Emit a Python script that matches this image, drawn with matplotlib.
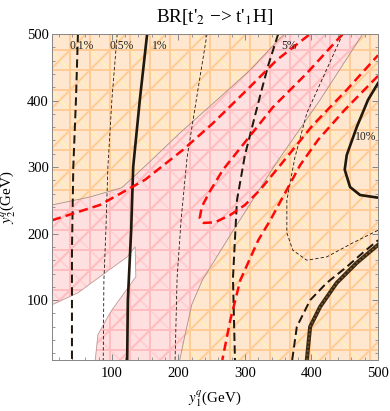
import matplotlib
matplotlib.use("Agg")
import matplotlib.pyplot as plt
from matplotlib.ticker import MultipleLocator

plt.rcParams['font.family'] = ['Liberation Serif', 'DejaVu Serif']
plt.rcParams['mathtext.fontset'] = 'stix'
plt.rcParams['lines.scale_dashes'] = False
plt.rcParams['hatch.linewidth'] = 1.2

x_lim = [10, 500]
y_lim = [10, 500]

# region boundaries (GeV)
upper_x = [10, 67, 115, 157, 202, 258, 308, 353, 360]
upper_y = [243, 255, 269, 308, 351, 401, 446, 494, 500]
lower_x = [202, 210, 220, 236, 275, 345, 413, 477]
lower_y = [10, 48, 93, 130, 193, 303, 401, 500]
white_x = [10, 49, 90, 123, 135, 136, 100, 94, 79, 75]
white_y = [93, 111, 141, 165, 180, 135, 85, 75, 48, 10]

# BR contours
c01_x = [49, 46, 42, 40, 40]
c01_y = [500, 401, 300, 175, 10]
c05_x = [108, 100, 94, 91, 88, 87]
c05_y = [500, 401, 300, 205, 130, 10]
c1_x = [153, 142, 132, 129, 124, 123]
c1_y = [500, 401, 300, 205, 100, 10]
c2_x = [243, 228, 213, 204, 198, 195]
c2_y = [500, 408, 314, 220, 133, 10]
c5_x = [350, 335, 323, 300, 288, 282, 285]
c5_y = [500, 453, 408, 318, 250, 133, 10]
c7_x = [447, 393, 375, 363, 363, 372, 393, 423, 462, 500]
c7_y = [500, 381, 314, 250, 201, 175, 160, 165, 186, 205]
c10_x = [500, 485, 468, 453, 450, 458, 473, 500]
c10_y = [426, 401, 360, 318, 296, 270, 258, 254]
cbd_x = [371, 378, 398, 423, 453, 477, 500]
cbd_y = [10, 60, 100, 126, 150, 171, 190]
cbs_x = [393, 398, 413, 438, 468, 500]
cbs_y = [10, 60, 90, 126, 156, 183]

# red dashed contours
r1_x = [10, 82, 150, 207, 252, 303, 348, 398]
r1_y = [220, 243, 281, 326, 366, 416, 461, 500]
loop_x = [447, 393, 342, 303, 267, 247, 235, 232, 238, 255, 278, 300, 323, 350, 402, 453, 500]
loop_y = [500, 441, 390, 341, 296, 263, 240, 223, 216, 217, 228, 243, 266, 299, 363, 416, 468]
r4_x = [500, 450, 410, 383, 363, 338, 320, 293, 278, 266]
r4_y = [437, 386, 341, 303, 266, 220, 190, 130, 70, 10]

labels = ['0.1%', '0.5%', '1%', '5%', '10%']
label_x = [55, 115, 172, 366, 482]
label_y = [482, 482, 482, 482, 345]

fig = plt.figure(figsize=(390 / 120, 411 / 120), dpi=120)
ax = fig.add_axes([52 / 390, 51 / 411, 326 / 390, 326 / 411])

orange = '#FFE7CF'
orange_h = '#FFCB96'
pink = '#FFE0E1'
pink_h = '#FFBDC0'

orange_polys = [
    (upper_x + [x_lim[0]], upper_y + [y_lim[1]]),
    (lower_x + [x_lim[1], x_lim[1]], lower_y + [y_lim[1], y_lim[0]]),
]
for px, py in orange_polys:
    ax.fill(px, py, facecolor=orange, edgecolor='#FFF0B8', hatch='x', linewidth=0)
    ax.fill(px, py, facecolor='none', edgecolor=orange_h, hatch='+/', linewidth=0)

pink_x = upper_x + lower_x[::-1] + white_x[::-1]
pink_y = upper_y + lower_y[::-1] + white_y[::-1]
ax.fill(pink_x, pink_y, facecolor=pink, edgecolor='#FFD0D2', hatch='x', linewidth=0)
ax.fill(pink_x, pink_y, facecolor='none', edgecolor=pink_h, hatch='+/', linewidth=0)

edge = '#A89080'
ax.plot(upper_x, upper_y, color=edge, lw=0.5)
ax.plot(lower_x, lower_y, color=edge, lw=0.5)
ax.plot(white_x, white_y, color='#C09898', lw=0.5)

dark = '#22180c'
thick_dash = (0, (5, 2.6))
thin_dash = (0, (2, 1.3))
ax.plot(c01_x, c01_y, color=dark, lw=1.2, linestyle=thick_dash)
ax.plot(c05_x, c05_y, color=dark, lw=0.5, linestyle=thin_dash)
ax.plot(c1_x, c1_y, color=dark, lw=1.6)
ax.plot(c2_x, c2_y, color=dark, lw=0.5, linestyle=thin_dash)
ax.plot(c5_x, c5_y, color=dark, lw=1.2, linestyle=thick_dash)
ax.plot(c7_x, c7_y, color=dark, lw=0.5, linestyle=thin_dash)
ax.plot(c10_x, c10_y, color=dark, lw=1.6)
ax.plot(cbd_x, cbd_y, color=dark, lw=1.2, linestyle=thick_dash)
ax.plot(cbs_x, cbs_y, color='#3a2812', lw=2.4)
ax.plot(cbs_x, cbs_y, color='#7a5a30', lw=1.0, linestyle=(0, (1, 1.5)))

red_dash = (0, (5.5, 3))
for xs, ys in [(r1_x, r1_y), (loop_x, loop_y), (r4_x, r4_y)]:
    ax.plot(xs, ys, color='#FF0808', lw=1.5, linestyle=red_dash)

for t, lx, ly in zip(labels, label_x, label_y):
    ax.text(lx, ly, t, fontsize=7, ha='center', va='center', color='#222222')

ax.set_xlim(x_lim)
ax.set_ylim(y_lim)
ax.xaxis.set_major_locator(MultipleLocator(100))
ax.yaxis.set_major_locator(MultipleLocator(100))
ax.xaxis.set_minor_locator(MultipleLocator(20))
ax.yaxis.set_minor_locator(MultipleLocator(20))
ax.tick_params(which='both', direction='in', top=True, right=True,
               color='#888888', labelsize=8.8)
ax.tick_params(which='major', length=3.6, width=0.6)
ax.tick_params(which='minor', length=1.8, width=0.5)
ax.tick_params(axis='x', pad=4)
ax.tick_params(axis='y', pad=2)
for s in ax.spines.values():
    s.set_color('#888888')
    s.set_linewidth(0.6)

ax.set_title("BR[t'$_2$ \u2212> t'$_1$H]", fontsize=11.5, pad=7)
ax.set_xlabel('$y_1^q$(GeV)', fontsize=9)
ax.set_ylabel('$y_2^q$(GeV)', fontsize=9)
ax.xaxis.set_label_coords(0.5, -0.088)
ax.yaxis.set_label_coords(-0.1, 0.5)

fig.savefig('out.png', dpi=120)
